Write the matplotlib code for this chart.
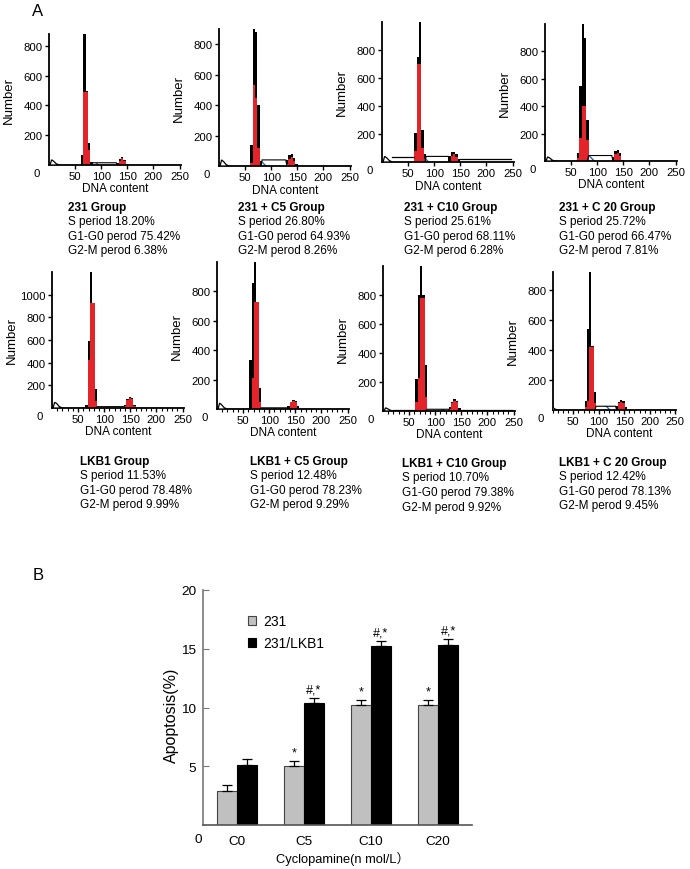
import matplotlib.pyplot as plt
from matplotlib.patches import Patch

plt.rcParams['font.family'] = ['Liberation Sans', 'DejaVu Sans']

W, H = 690, 870

# ---- panel A data: cell cycle histograms ----
group_names = ['231 Group', '231 + C5 Group', '231 + C10 Group', '231 + C 20 Group',
               'LKB1 Group', 'LKB1 + C5 Group', 'LKB1 + C10 Group', 'LKB1 + C 20 Group']
s_period = ['18.20', '26.80', '25.61', '25.72', '11.53', '12.48', '10.70', '12.42']
g1_period = ['75.42', '64.93', '68.11', '66.47', '78.48', '78.23', '79.38', '78.13']
g2_period = ['6.38', '8.26', '6.28', '7.81', '9.99', '9.29', '9.92', '9.45']

y_max = [880, 900, 1000, 1000, 1200, 1000, 1000, 920]
y_ticks = [[200, 400, 600, 800]] * 4 + [[200, 400, 600, 800, 1000]] + [[200, 400, 600, 800]] * 3
x_ticks = [50, 100, 150, 200, 250]

# G1 peak: first channel and counts per bin (black = data, red = fitted G1)
g1_start = [61, 60, 62, 61, 64, 62, 62, 72]
g1_black = [[70, 1000, 500, 150, 20],
            [140, 900, 880, 400, 30],
            [210, 750, 1000, 230, 60],
            [60, 550, 1000, 900, 300],
            [30, 590, 1200, 930, 170],
            [335, 860, 1000, 730, 140],
            [220, 800, 1000, 800, 320],
            [60, 540, 920, 430, 120]]
g1_red = [[0, 490, 490, 100, 0],
          [20, 530, 450, 120, 0],
          [80, 700, 700, 100, 20],
          [20, 170, 400, 400, 150],
          [10, 420, 930, 930, 60],
          [0, 210, 730, 730, 50],
          [60, 230, 780, 780, 100],
          [20, 60, 420, 420, 50]]

# G2 peak
g2_start = [129, 128, 127, 128, 138, 135, 126, 133]
g2_black = [[15, 40, 55, 35, 8],
            [40, 70, 80, 50, 15],
            [40, 70, 75, 55, 20],
            [30, 70, 80, 55, 10],
            [30, 80, 98, 85, 30],
            [20, 50, 62, 55, 20],
            [30, 65, 80, 70, 20],
            [25, 55, 70, 60, 20]]
g2_red = [[5, 30, 45, 25, 0],
          [10, 45, 60, 35, 0],
          [10, 45, 55, 35, 0],
          [10, 50, 60, 40, 0],
          [20, 75, 90, 80, 20],
          [10, 45, 55, 45, 10],
          [15, 55, 70, 60, 10],
          [10, 45, 55, 45, 5]]

# S phase plateau and debris / floor levels
s_level = [15, 40, 40, 40, 12, 8, 12, 25]
debris_x = [2, 5, 9, 14, 20]
debris_y = [[0, 35, 25, 8, 0],
            [0, 40, 28, 8, 0],
            [0, 40, 30, 10, 0],
            [0, 30, 22, 6, 0],
            [0, 50, 40, 12, 0],
            [0, 40, 28, 8, 0],
            [0, 22, 15, 5, 0],
            [0, 25, 18, 6, 0]]
floor_left = [3, 3, 35, 3, 3, 3, 10, 3]
floor_right = [3, 3, 25, 3, 3, 3, 10, 3]

# ---- panel B data: apoptosis ----
conc = ['C0', 'C5', 'C10', 'C20']
apop_231 = [2.9, 5.0, 10.2, 10.2]
err_231 = [0.5, 0.45, 0.45, 0.45]
apop_lkb1 = [5.1, 10.4, 15.2, 15.35]
err_lkb1 = [0.5, 0.45, 0.5, 0.45]
sig_231 = ['', '*', '*', '*']
sig_lkb1 = ['', '#,*', '#,*', '#,*']

# layout (pixels): axis origin x, baseline y, top y
hist_box = [(49, 166, 35), (219, 167, 30), (382, 163, 23), (545, 162, 25),
            (52, 409, 273), (217, 410, 263), (383, 412, 267), (553, 411, 273)]
x_lo = [0, 0, 0, 0, 0, 0, 0, 16]
text_xy = [(68, 208), (238, 208), (404, 208), (559, 208),
           (80, 462), (250, 462), (402, 464), (559, 463)]
PXU = 0.522
BW = 4.5

fig = plt.figure(figsize=(W / 100, H / 100), dpi=100)


def px_axes(x0, y0, x1, y1):
    return fig.add_axes([x0 / W, 1 - y1 / H, (x1 - x0) / W, (y1 - y0) / H])


for i in range(8):
    x0, yb, yt = hist_box[i]
    wpx = (252 - x_lo[i]) * PXU
    ax = px_axes(x0, yt, x0 + wpx, yb)
    ax.set_xlim(x_lo[i], 252)
    ax.set_ylim(0, y_max[i])

    # S phase band
    s_lo = g1_start[i] + 5 * BW
    s_hi = g2_start[i]
    ax.fill_between([s_lo, s_hi], 0, s_level[i], facecolor='white',
                    edgecolor='#3a5fb0', hatch='\\', linewidth=0, zorder=1)
    ax.plot([s_lo - 2, s_lo, s_hi, s_hi + 2], [0, s_level[i], s_level[i], 0],
            color='black', lw=0.8, zorder=3)
    # floors
    ax.plot([debris_x[-1], g1_start[i]], [floor_left[i], floor_left[i]],
            color='black', lw=0.9, zorder=3)
    ax.plot([g2_start[i] + 5 * BW, 248], [floor_right[i], floor_right[i]],
            color='black', lw=0.9, zorder=3)
    # debris
    ax.fill(debris_x, debris_y[i], facecolor='white', edgecolor='black', lw=0.9, zorder=3)

    g1x = [g1_start[i] + k * BW for k in range(5)]
    g2x = [g2_start[i] + k * BW for k in range(5)]
    ax.bar(g1x, g1_black[i], width=BW, align='edge', color='black', lw=0, zorder=2)
    ax.bar(g1x, g1_red[i], width=BW, align='edge', color='#e3242b', lw=0, zorder=2.5)
    ax.bar(g2x, g2_black[i], width=BW, align='edge', color='black', lw=0, zorder=2)
    ax.bar(g2x, g2_red[i], width=BW, align='edge', color='#e3242b', lw=0, zorder=2.5)

    for s in ['top', 'right']:
        ax.spines[s].set_visible(False)
    for s in ['left', 'bottom']:
        ax.spines[s].set_linewidth(1.3)
    ax.set_yticks(y_ticks[i])
    ax.set_xticks(x_ticks)
    ax.tick_params(axis='both', direction='out', length=3, width=1, labelsize=8.2, pad=1.5)
    ax.tick_params(axis='x', pad=1)
    if i >= 4:
        ax.set_xticks(range(10, 250, 10), minor=True)
        ax.tick_params(axis='x', which='minor', length=2, width=0.8)
    ax.set_ylabel('Number', fontsize=9.5)
    ax.yaxis.set_label_coords(-34 / wpx, 0.5)
    ax.set_xlabel('DNA content', fontsize=8.5)
    ax.xaxis.set_label_coords(0.5 + (x_lo[i] * PXU) / (2 * wpx), -17.5 / (yb - yt))
    fig.text((x0 - 12) / W, 1 - (yb + 8) / H, '0', fontsize=8.2, ha='center', va='center')

    tx, ty = text_xy[i]
    fig.text(tx / W, 1 - ty / H, group_names[i], fontsize=8.5, fontweight='bold', va='center')
    fig.text(tx / W, 1 - (ty + 14.5) / H, 'S period ' + s_period[i] + '%', fontsize=8.5, va='center')
    fig.text(tx / W, 1 - (ty + 29) / H, 'G1-G0 perod ' + g1_period[i] + '%', fontsize=8.5, va='center')
    fig.text(tx / W, 1 - (ty + 43.5) / H, 'G2-M perod ' + g2_period[i] + '%', fontsize=8.5, va='center')

fig.text(38 / W, 1 - 12 / H, 'A', fontsize=12, ha='center', va='center')
fig.text(38 / W, 1 - 575 / H, 'B', fontsize=12, ha='center', va='center')

# ---- panel B ----
bx = px_axes(203, 591, 472, 826)
pos = list(range(len(conc)))
bw = 0.3
bx.bar([p - bw / 2 for p in pos], apop_231, width=bw, color='#c0c0c0', edgecolor='#444444',
       lw=0.8, yerr=[[0] * 4, err_231], capsize=3.5, error_kw=dict(lw=0.9, capthick=0.9))
bx.bar([p + bw / 2 for p in pos], apop_lkb1, width=bw, color='black', edgecolor='black',
       lw=0.8, yerr=[[0] * 4, err_lkb1], capsize=3.5, error_kw=dict(lw=0.9, capthick=0.9))
for p in pos:
    if sig_231[p]:
        bx.text(p - bw / 2, apop_231[p] + err_231[p] + 0.2, sig_231[p], ha='center', va='bottom', fontsize=9)
    if sig_lkb1[p]:
        bx.text(p + bw / 2, apop_lkb1[p] + err_lkb1[p] + 0.2, sig_lkb1[p], ha='center', va='bottom', fontsize=9)

bx.set_xlim(-0.507, 3.507)
bx.set_ylim(0, 20)
bx.set_yticks([5, 10, 15, 20])
bx.set_xticks(pos)
bx.set_xticklabels(conc)
bx.tick_params(axis='y', direction='in', length=4, labelsize=9.7, pad=5, color='#777777')
bx.tick_params(axis='x', length=0, labelsize=9.7, pad=7)
for s in ['top', 'right']:
    bx.spines[s].set_visible(False)
bx.spines['left'].set_color('#777777')
bx.spines['bottom'].set_color('#555555')
bx.spines['left'].set_linewidth(1.2)
bx.spines['bottom'].set_linewidth(1.2)
bx.set_ylabel('Apoptosis(%)', fontsize=11.5)
bx.yaxis.set_label_coords(-24 / 269, 0.47)
bx.set_xlabel('Cyclopamine(n mol/L）', fontsize=9.3, family=['Liberation Sans', 'Noto Sans CJK SC'])
bx.xaxis.set_label_coords(0.52, -26 / 235)
fig.text(198 / W, 1 - 840 / H, '0', fontsize=9.7, ha='center', va='center')

handles = [Patch(facecolor='#c0c0c0', edgecolor='#444444', lw=0.8),
           Patch(facecolor='black', edgecolor='black', lw=0.8)]
bx.legend(handles, ['231', '231/LKB1'], loc='upper left', frameon=False,
          bbox_to_anchor=(248 / W, 1 - 615 / H), bbox_transform=fig.transFigure,
          handlelength=0.6, handleheight=0.6, handletextpad=0.5, labelspacing=0.6, fontsize=10,
          borderaxespad=0, borderpad=0)

fig.savefig('out.png', dpi=100)
